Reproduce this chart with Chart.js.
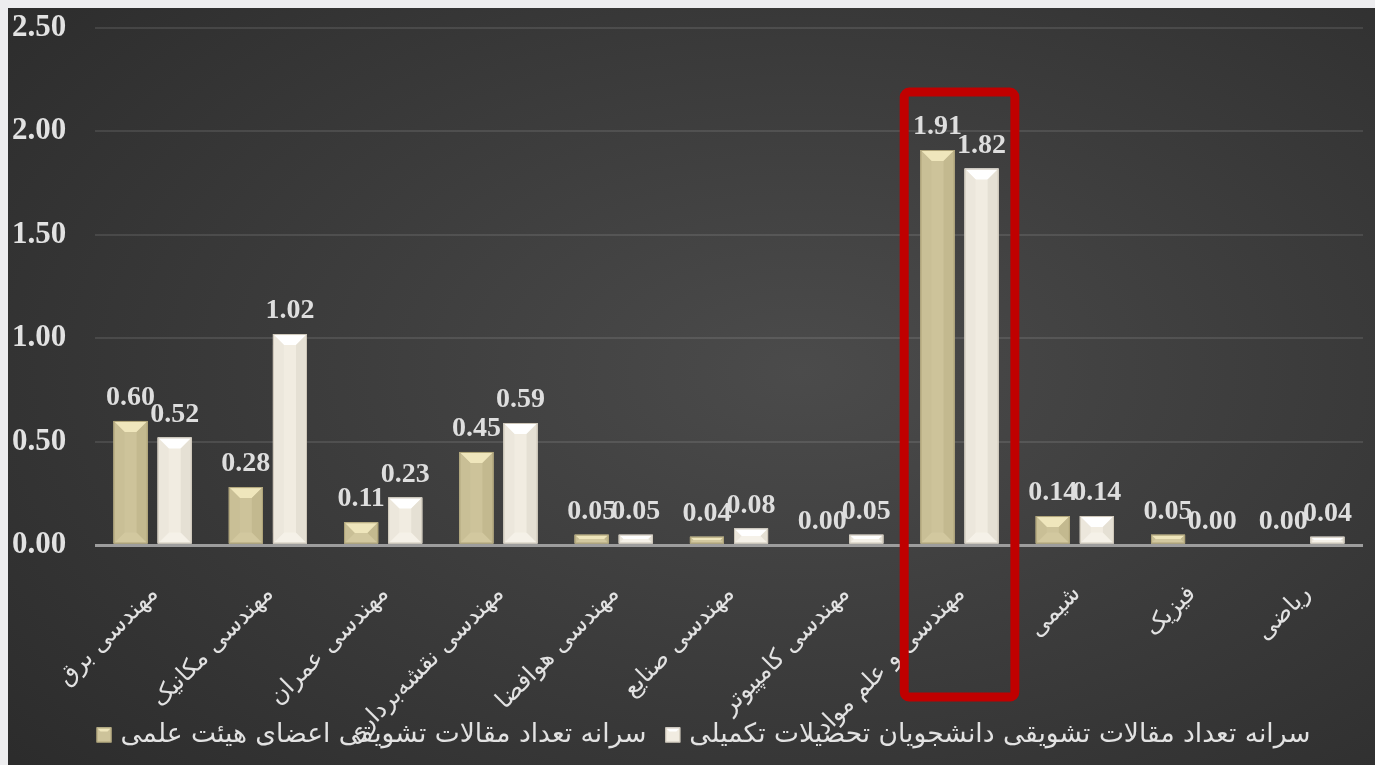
<!DOCTYPE html>
<html>
<head>
<meta charset="utf-8">
<script src="https://cdn.jsdelivr.net/npm/chart.js@4/dist/chart.umd.min.js"></script>
<style>
  html, body { margin: 0; padding: 0; background: #ededef; }
  .wrap { position: absolute; left: 8px; top: 8px; width: 1367px; height: 757px;
    background: radial-gradient(ellipse 75% 80% at 58% 48%, #4b4b4b 0%, #3d3d3d 45%, #2c2c2c 100%); }
</style>
</head>
<body>
<div class="wrap"><canvas id="c" width="1367" height="757"></canvas></div>
<script>
// categories (left to right)
const categories = [
  'مهندسی برق', 'مهندسی مکانیک', 'مهندسی عمران', 'مهندسی نقشه\u200cبرداری',
  'مهندسی هوافضا', 'مهندسی صنایع', 'مهندسی کامپیوتر', 'مهندسی و علم مواد',
  'شیمی', 'فیزیک', 'ریاضی'
];
const seriesNames = [
  'سرانه تعداد مقالات تشویقی اعضای هیئت علمی',
  'سرانه تعداد مقالات تشویقی دانشجویان تحصیلات تکمیلی'
];
const facultyValues = [0.60, 0.28, 0.11, 0.45, 0.05, 0.04, 0.00, 1.91, 0.14, 0.05, 0.00];
const studentValues = [0.52, 1.02, 0.23, 0.59, 0.05, 0.08, 0.05, 1.82, 0.14, 0.00, 0.04];
const highlightIndex = 7; // boxed category

const faces = [
  { face: '#cdc39a', top: '#efe6bc', bottom: '#d2c89f', left: '#c9bf96', right: '#c3b98f', edge: '#aea378' },
  { face: '#f1ece1', top: '#ffffff', bottom: '#f5f1e8', left: '#ece7dc', right: '#e5e0d4', edge: '#cdc6b8' }
];

// bevelled bar faces drawn over each bar
const bevelPlugin = {
  id: 'bevel',
  afterDatasetDraw: function (chart, args) {
    const ctx = chart.ctx;
    const f = faces[args.index];
    args.meta.data.forEach(function (el) {
      const p = el.getProps(['x', 'y', 'base', 'width'], true);
      const l = p.x - p.width / 2, r = p.x + p.width / 2, t = p.y, b = p.base;
      const h = b - t;
      if (h < 1) return;
      const d = Math.min(11, h / 2, p.width / 2);
      ctx.save();
      function poly(pts, c) {
        ctx.beginPath();
        ctx.moveTo(pts[0][0], pts[0][1]);
        for (let i = 1; i < pts.length; i++) ctx.lineTo(pts[i][0], pts[i][1]);
        ctx.closePath();
        ctx.fillStyle = c;
        ctx.fill();
      }
      poly([[l, t], [r, t], [r - d, t + d], [l + d, t + d]], f.top);
      poly([[l, b], [r, b], [r - d, b - d], [l + d, b - d]], f.bottom);
      poly([[l, t], [l + d, t + d], [l + d, b - d], [l, b]], f.left);
      poly([[r, t], [r - d, t + d], [r - d, b - d], [r, b]], f.right);
      ctx.strokeStyle = f.edge;
      ctx.lineWidth = 1;
      ctx.strokeRect(l + 0.5, t + 0.5, p.width - 1, h - 1);
      ctx.restore();
    });
  }
};

// value labels above bars
const valuePlugin = {
  id: 'values',
  afterDatasetsDraw: function (chart) {
    const ctx = chart.ctx;
    ctx.save();
    ctx.font = 'bold 28px "Liberation Serif"';
    ctx.fillStyle = '#dedede';
    ctx.textAlign = 'center';
    ctx.textBaseline = 'bottom';
    chart.data.datasets.forEach(function (ds, i) {
      chart.getDatasetMeta(i).data.forEach(function (el, j) {
        ctx.fillText(ds.data[j].toFixed(2), el.x, el.y - 9);
      });
    });
    ctx.restore();
  }
};

// red rounded box around the highlighted category
const boxPlugin = {
  id: 'highlight',
  afterDraw: function (chart) {
    const xs = chart.scales.x, ys = chart.scales.y;
    const cx = xs.getPixelForValue(highlightIndex);
    const half = (xs.getPixelForValue(1) - xs.getPixelForValue(0)) * 0.48;
    const top = ys.getPixelForValue(2.19);
    const bottom = xs.top + 152;
    const ctx = chart.ctx;
    ctx.save();
    ctx.strokeStyle = '#c00000';
    ctx.lineWidth = 9;
    ctx.beginPath();
    ctx.roundRect(cx - half, top, half * 2, bottom - top, 5);
    ctx.stroke();
    ctx.restore();
  }
};

// legend drawn in one row at the bottom: [box] text [box] text
const legendPlugin = {
  id: 'rowLegend',
  afterDraw: function (chart) {
    const ctx = chart.ctx;
    ctx.save();
    ctx.font = '26.5px "DejaVu Sans"';
    const box = 15, gapIn = 9, gapOut = 19;
    const widths = seriesNames.map(function (s) { return ctx.measureText(s).width; });
    const total = box * 2 + gapIn * 2 + gapOut + widths[0] + widths[1];
    let x = chart.width / 2 - total / 2 + 12;
    const y = chart.height - 30;
    ctx.textBaseline = 'middle';
    ctx.textAlign = 'left';
    seriesNames.forEach(function (s, i) {
      const f = faces[i];
      ctx.fillStyle = f.face;
      ctx.fillRect(x, y - box / 2, box, box);
      ctx.fillStyle = f.top;
      ctx.beginPath();
      ctx.moveTo(x, y - box / 2); ctx.lineTo(x + box, y - box / 2);
      ctx.lineTo(x + box - 4, y - box / 2 + 4); ctx.lineTo(x + 4, y - box / 2 + 4);
      ctx.closePath(); ctx.fill();
      ctx.strokeStyle = f.edge; ctx.lineWidth = 1;
      ctx.strokeRect(x + 0.5, y - box / 2 + 0.5, box - 1, box - 1);
      x += box + gapIn;
      ctx.fillStyle = '#e2e2e2';
      ctx.fillText(s, x, y);
      x += widths[i] + gapOut;
    });
    ctx.restore();
  }
};

new Chart(document.getElementById('c'), {
  type: 'bar',
  data: {
    labels: categories,
    datasets: [
      { label: seriesNames[0], data: facultyValues, backgroundColor: faces[0].face,
        borderWidth: 0, barPercentage: 0.773, categoryPercentage: 0.765 },
      { label: seriesNames[1], data: studentValues, backgroundColor: faces[1].face,
        borderWidth: 0, barPercentage: 0.773, categoryPercentage: 0.765 }
    ]
  },
  options: {
    responsive: false,
    animation: false,
    layout: { padding: { top: 20, right: 12, bottom: 0, left: 4 } },
    scales: {
      x: {
        grid: { display: false },
        border: { display: false },
        ticks: {
          color: '#e2e2e2', font: { family: '"DejaVu Sans"', size: 24 },
          minRotation: 45, maxRotation: 45, autoSkip: false, padding: 27, labelOffset: 2
        },
        afterFit: function (s) { s.height = 220; }
      },
      y: {
        min: 0, max: 2.5,
        border: { display: false },
        grid: {
          drawTicks: false,
          color: function (c) { return c.tick && c.tick.value === 0 ? '#9d9d9d' : 'rgba(255,255,255,0.10)'; },
          lineWidth: function (c) { return c.tick && c.tick.value === 0 ? 3 : 2; }
        },
        ticks: {
          stepSize: 0.5, color: '#e2e2e2', crossAlign: 'far', padding: 0,
          font: { family: '"Liberation Serif"', size: 31, weight: 'bold' },
          callback: function (v) { return v.toFixed(2); }
        },
        afterFit: function (s) { s.width = 83; }
      }
    },
    plugins: {
      legend: { display: false },
      tooltip: { enabled: false }
    }
  },
  plugins: [bevelPlugin, valuePlugin, boxPlugin, legendPlugin]
});
</script>
</body>
</html>
